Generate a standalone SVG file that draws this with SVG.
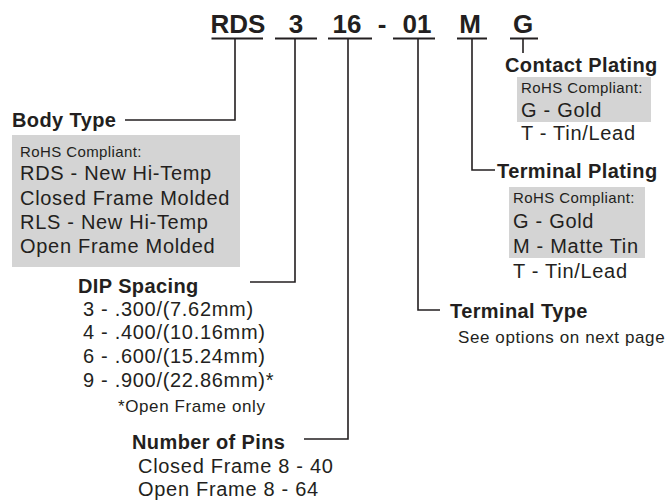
<svg xmlns="http://www.w3.org/2000/svg" width="670" height="500" viewBox="0 0 670 500">
<style>
text{font-family:"Liberation Sans",Arial,sans-serif;fill:#231f20}
.code{font-size:26px;font-weight:bold}
.h{font-size:20px;font-weight:bold;letter-spacing:0.4px}
.t{font-size:20px;letter-spacing:0.7px}
.s{font-size:17px;letter-spacing:0.6px}
.r{font-size:15px;letter-spacing:0.4px}
.box{fill:#d4d4d4}
.ln{stroke:#231f20;stroke-width:1.6;fill:none}
.ul{stroke:#231f20;stroke-width:2.2;fill:none}
</style>
<rect width="670" height="500" fill="#fff"/>
<g id="code">
<text class="code" x="238" y="33" text-anchor="middle">RDS</text>
<text class="code" x="296" y="33" text-anchor="middle">3</text>
<text class="code" x="347" y="33" text-anchor="middle">16</text>
<text class="code" x="382" y="33" text-anchor="middle">-</text>
<text class="code" x="417" y="33" text-anchor="middle">01</text>
<text class="code" x="470" y="33" text-anchor="middle">M</text>
<text class="code" x="523" y="33" text-anchor="middle">G</text>
<path class="ul" d="M211.5 38.5H263M275 38.5H317M328 38.5H372M393 38.5H435M457 38.5H487M510 38.5H538"/>
</g>
<g id="connectors">
<path class="ln" d="M235 38V120H125"/>
<path class="ln" d="M295 38V282H250"/>
<path class="ln" d="M348 38V439H304"/>
<path class="ln" d="M418 38V310H440"/>
<path class="ln" d="M472 38V170H495"/>
<path class="ln" d="M523 38V53"/>
</g>
<g id="body-type">
<text class="h" x="12" y="127">Body Type</text>
<rect class="box" x="12" y="135" width="228" height="132"/>
<text class="r" x="20" y="157">RoHS Compliant:</text>
<text class="t" x="20" y="180">RDS - New Hi-Temp</text>
<text class="t" x="20" y="205">Closed Frame Molded</text>
<text class="t" x="20" y="229">RLS - New Hi-Temp</text>
<text class="t" x="20" y="253">Open Frame Molded</text>
</g>
<g id="dip-spacing">
<text class="h" x="78" y="293">DIP Spacing</text>
<text class="t" x="83" y="316">3 - .300/(7.62mm)</text>
<text class="t" x="83" y="339">4 - .400/(10.16mm)</text>
<text class="t" x="83" y="363">6 - .600/(15.24mm)</text>
<text class="t" x="83" y="387">9 - .900/(22.86mm)*</text>
<text class="s" x="118" y="412">*Open Frame only</text>
</g>
<g id="number-of-pins">
<text class="h" x="132" y="449">Number of Pins</text>
<text class="t" x="138" y="473">Closed Frame 8 - 40</text>
<text class="t" x="138" y="496">Open Frame 8 - 64</text>
</g>
<g id="terminal-type">
<text class="h" x="450" y="318">Terminal Type</text>
<text class="s" x="458" y="343">See options on next page</text>
</g>
<g id="terminal-plating">
<text class="h" x="497" y="178">Terminal Plating</text>
<rect class="box" x="509" y="187" width="136" height="71"/>
<text class="r" x="513" y="203">RoHS Compliant:</text>
<text class="t" x="513" y="228">G - Gold</text>
<text class="t" x="513" y="253">M - Matte Tin</text>
<text class="t" x="513" y="278">T - Tin/Lead</text>
</g>
<g id="contact-plating">
<text class="h" x="505" y="72">Contact Plating</text>
<rect class="box" x="517" y="77" width="134" height="45"/>
<text class="r" x="521" y="93">RoHS Compliant:</text>
<text class="t" x="521" y="117">G - Gold</text>
<text class="t" x="521" y="140">T - Tin/Lead</text>
</g>
</svg>
